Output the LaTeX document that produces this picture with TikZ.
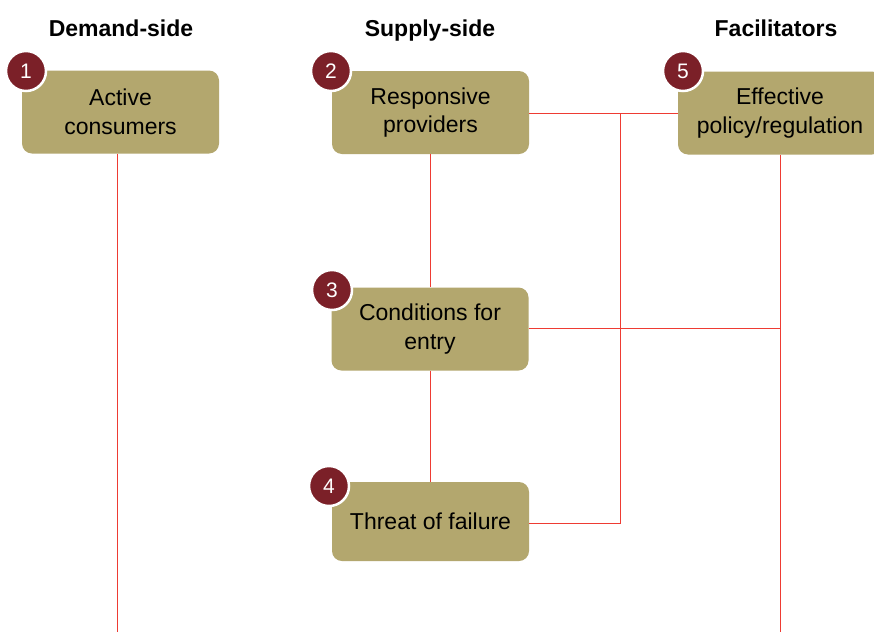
\documentclass[tikz,border=0pt]{standalone}
\usepackage{fontspec}
\setmainfont{Liberation Sans}
\begin{document}
\begin{tikzpicture}[x=1pt,y=-1pt,
  box/.style={fill=boxfill,rounded corners=10pt,minimum width=197pt,minimum height=83pt,inner sep=0pt,align=center,font=\fontsize{23}{28.5}\selectfont,text=black},
  badge/.style={circle,fill=badgered,draw=white,line width=2.5pt,minimum size=40pt,inner sep=0pt,text=white,font=\fontsize{21}{24}\selectfont},
  head/.style={font=\bfseries\fontsize{23}{26}\selectfont,text=black,anchor=base},
  link/.style={draw=linkred,line width=0.9pt}]
\definecolor{boxfill}{HTML}{B3A76E}
\definecolor{badgered}{HTML}{7B2028}
\definecolor{linkred}{HTML}{EE3B33}
\useasboundingbox (0,0) rectangle (874,632);
\fill[white] (0,0) rectangle (874,632);
% headers
\node[head] (h1) at (121,36) {Demand-side};
\node[head] (h2) at (430,36) {Supply-side};
\node[head] (h3) at (776,36) {Facilitators};
% coordinates
\coordinate (e1) at (117,632);
\coordinate (e5) at (780,632);
\coordinate (j1) at (620,113);
\coordinate (j2) at (620,523);
\coordinate (j3) at (780,328);
% boxes
\path (120.5,112) node[box] (b1) {Active\\consumers};
\path (430.5,112.5) node[box] (b2) {Responsive\\providers};
\path (780,113) node[box,minimum width=204pt] (b5) {Effective\\policy/regulation};
\path (430,329) node[box] (b3) {Conditions for\\entry};
\path (430.5,521.5) node[box,minimum height=79pt] (b4) {Threat of failure};
% connectors
\draw[link] (b1.south -| e1) -- (e1);
\draw[link] (b2.south -| 430,0) -- (b3.north -| 430,0);
\draw[link] (b3.south -| 430,0) -- (b4.north -| 430,0);
\draw[link] (b2.east |- j1) -- (b5.west |- j1);
\draw[link] (b4.east |- j2) -- (j2) -- (j1);
\draw[link] (b3.east |- j3) -- (j3);
\draw[link] (b5.south -| e5) -- (e5);
% badges
\node[badge] (n1) at (26,71) {1};
\node[badge] (n2) at (331,71) {2};
\node[badge] (n5) at (683,71) {5};
\node[badge] (n3) at (332,290) {3};
\node[badge] (n4) at (329,486) {4};
\end{tikzpicture}
\end{document}
